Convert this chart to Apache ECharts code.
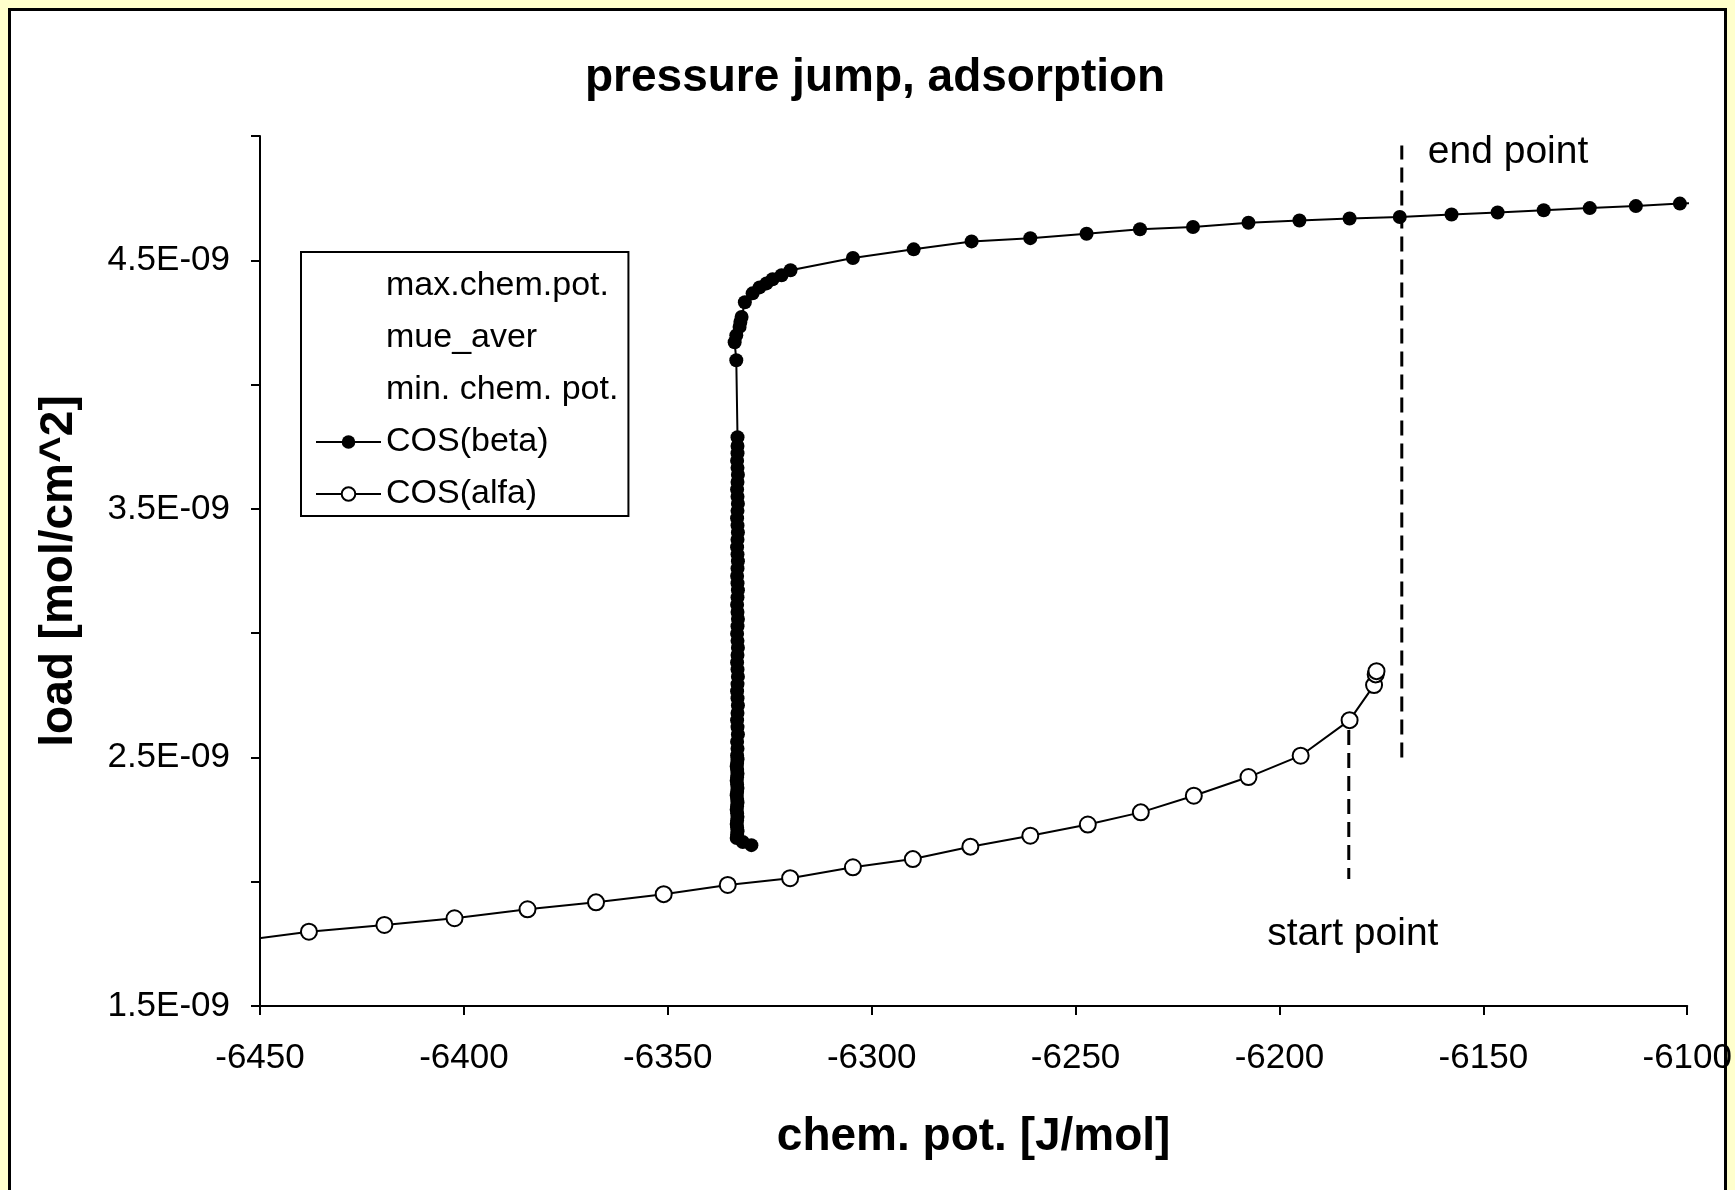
<!DOCTYPE html>
<html>
<head>
<meta charset="utf-8">
<script src="https://cdn.jsdelivr.net/npm/echarts@6/dist/echarts.min.js"></script>
<style>
html,body{margin:0;padding:0;background:#FFFFCC;}
#c{width:1735px;height:1190px;}
</style>
</head>
<body>
<div id="c"></div>
<script>
const FONT = '"Liberation Sans", Arial, Helvetica, sans-serif';

const chartTitle = 'pressure jump, adsorption';
const xAxisTitle = 'chem. pot. [J/mol]';
const yAxisTitle = 'load [mol/cm^2]';
const legendNames = ['max.chem.pot.', 'mue_aver', 'min. chem. pot.', 'COS(beta)', 'COS(alfa)'];

// axes (load in units of 1E-09 mol/cm^2)
const xMin = -6450, xMax = -6100, xStep = 50;
const yMin = 1.5, yMax = 5.0, yStep = 0.5;
const yLabelValues = [1.5, 2.5, 3.5, 4.5];

// COS(beta): jump branch, bottom -> top -> right (last entry: line run-out past the axis end)
const betaX = [
  -6329.5, -6331.6,
  -6333.1, -6333.0, -6332.9, -6333.0, -6333.1, -6333.0, -6332.9, -6333.0, -6333.1, -6333.0,
  -6332.9, -6333.0, -6333.1, -6333.0, -6332.9, -6333.0, -6333.1, -6333.0, -6332.9, -6333.0,
  -6333.1, -6333.0, -6332.9, -6333.0,
  -6332.9, -6333.0, -6332.8, -6332.9, -6333.0, -6332.9, -6332.8, -6332.9, -6333.0, -6332.9,
  -6332.8, -6332.9, -6333.0, -6332.9, -6332.8, -6332.9, -6333.0, -6332.9, -6332.8, -6332.9,
  -6333.0, -6332.9, -6332.8, -6332.9, -6333.0, -6332.9, -6332.8, -6332.9, -6333.0, -6332.9,
  -6332.8, -6332.9, -6333.0, -6332.9, -6332.8, -6332.9, -6333.0, -6332.9, -6332.8, -6332.9,
  -6333.0, -6332.9, -6332.9, -6332.9,
  -6333.2, -6333.6, -6333.2, -6332.4, -6332.2, -6331.9, -6331.1, -6329.2, -6327.5, -6325.8,
  -6324.3, -6322.1, -6319.9,
  -6304.6, -6289.7, -6275.5, -6261.1, -6247.3, -6234.2, -6221.2, -6207.6, -6195.1, -6182.8,
  -6170.5, -6157.8, -6146.5, -6135.2, -6123.9, -6112.6, -6101.8,
  -6097.1
];
const betaY = [
  2.147, 2.160,
  2.176, 2.190, 2.203, 2.218, 2.232, 2.246, 2.261, 2.275, 2.290, 2.304,
  2.319, 2.333, 2.348, 2.362, 2.377, 2.391, 2.406, 2.420, 2.435, 2.449,
  2.464, 2.478, 2.493, 2.508,
  2.535, 2.563, 2.592, 2.622, 2.650, 2.679, 2.709, 2.738, 2.766, 2.795,
  2.825, 2.854, 2.882, 2.912, 2.941, 2.969, 2.998, 3.028, 3.057, 3.085,
  3.114, 3.144, 3.173, 3.201, 3.230, 3.260, 3.289, 3.317, 3.346, 3.376,
  3.405, 3.433, 3.462, 3.492, 3.521, 3.549, 3.578, 3.608, 3.637, 3.665,
  3.694, 3.724, 3.753, 3.788,
  4.098, 4.170, 4.198, 4.232, 4.252, 4.272, 4.331, 4.367, 4.391, 4.407,
  4.424, 4.440, 4.460,
  4.509, 4.544, 4.576, 4.589, 4.607, 4.625, 4.634, 4.651, 4.660, 4.668,
  4.674, 4.684, 4.692, 4.701, 4.710, 4.718, 4.728,
  4.731
];

// COS(alfa): lower branch, left -> right (first entry: line run-in at the axis start)
const alfaX = [
  -6450.6, -6438.0, -6419.5, -6402.3, -6384.4, -6367.6, -6351.0, -6335.3, -6320.0, -6304.6,
  -6289.9, -6275.8, -6261.1, -6247.0, -6234.0, -6221.0, -6207.6, -6194.8, -6182.8, -6176.8,
  -6176.4, -6176.2
];
const alfaY = [
  1.772, 1.799, 1.826, 1.853, 1.889, 1.917, 1.950, 1.987, 2.014, 2.058,
  2.091, 2.141, 2.185, 2.230, 2.279, 2.346, 2.421, 2.507, 2.650, 2.791,
  2.834, 2.847
];

// dashed markers
const startLineX = [-6183, -6183], startLineY = [2.610, 2.011], startText = 'start point';
const endLineX = [-6170, -6170], endLineY = [2.500, 4.962], endText = 'end point';

// build [x, y] pairs; the run-in/run-out point carries no marker
const pairs = (xs, ys, bareIndex) => xs.map((x, i) =>
  i === bareIndex ? {value: [x, ys[i]], symbol: 'none'} : [x, ys[i]]);

const chart = echarts.init(document.getElementById('c'), null, {renderer: 'canvas'});

const emptySeries = name => ({
  name, type: 'line', data: [], symbol: 'none',
  lineStyle: {opacity: 0}, itemStyle: {opacity: 0}
});

const option = {
  backgroundColor: '#FFFFCC',
  animation: false,
  textStyle: {fontFamily: FONT, color: '#000'},
  title: {
    text: chartTitle, left: 580, top: 50,
    textStyle: {fontFamily: FONT, fontSize: 46, fontWeight: 'bold', color: '#000'}
  },
  grid: {left: 260, top: 136, width: 1428, height: 870, containLabel: false},
  legend: {
    data: legendNames,
    orient: 'vertical', left: 301, top: 252,
    itemWidth: 65, itemHeight: 17, itemGap: 18,
    padding: [17, 10, 5, 14],
    borderColor: '#000', borderWidth: 2, backgroundColor: '#fff',
    selectedMode: false,
    textStyle: {fontFamily: FONT, fontSize: 34, color: '#000', lineHeight: 34}
  },
  xAxis: {
    type: 'value', min: xMin, max: xMax, interval: xStep,
    name: xAxisTitle, nameLocation: 'middle', nameGap: 108,
    nameTextStyle: {fontFamily: FONT, fontSize: 46, fontWeight: 'bold', color: '#000'},
    axisLine: {show: true, onZero: false, lineStyle: {color: '#000', width: 2}},
    axisTick: {show: true, inside: false, length: 9, lineStyle: {color: '#000', width: 2}},
    axisLabel: {fontFamily: FONT, fontSize: 35, color: '#000', margin: 35,
      formatter: v => String(Math.round(v))},
    splitLine: {show: false}
  },
  yAxis: {
    type: 'value', min: yMin, max: yMax, interval: yStep,
    name: yAxisTitle, nameLocation: 'middle', nameGap: 178, nameRotate: 90,
    nameTextStyle: {fontFamily: FONT, fontSize: 46, fontWeight: 'bold', color: '#000'},
    axisLine: {show: true, onZero: false, lineStyle: {color: '#000', width: 2}},
    axisTick: {show: true, inside: false, length: 9, lineStyle: {color: '#000', width: 2}},
    axisLabel: {
      fontFamily: FONT, fontSize: 35, color: '#000', margin: 30,
      formatter: v => yLabelValues.includes(+(+v).toFixed(1)) ? (+v).toFixed(1) + 'E-09' : ''
    },
    splitLine: {show: false}
  },
  graphic: [{
    type: 'rect', z: -100, silent: true,
    shape: {x: 9.5, y: 9.5, width: 1716, height: 1220},
    style: {fill: '#fff', stroke: '#000', lineWidth: 3}
  }],
  series: [
    emptySeries(legendNames[0]),
    emptySeries(legendNames[1]),
    emptySeries(legendNames[2]),
    {
      name: legendNames[3], type: 'line', data: pairs(betaX, betaY, betaX.length - 1),
      clip: false, z: 3,
      symbol: 'circle', symbolSize: 14,
      itemStyle: {color: '#000'},
      lineStyle: {color: '#000', width: 2}
    },
    {
      name: legendNames[4], type: 'line', data: pairs(alfaX, alfaY, 0),
      clip: true, z: 3,
      symbol: 'emptyCircle', symbolSize: 16,
      itemStyle: {color: '#000', borderColor: '#000', borderWidth: 2},
      lineStyle: {color: '#000', width: 2}
    },
    {
      name: 'startLine', type: 'line', data: pairs(startLineX, startLineY, -1),
      symbol: 'none', z: 2,
      lineStyle: {color: '#000', width: 3, type: [15, 8]}
    },
    {
      name: 'endLine', type: 'line', data: pairs(endLineX, endLineY, -1),
      symbol: 'none', z: 2,
      lineStyle: {color: '#000', width: 3, type: [15, 8]}
    }
  ]
};

chart.setOption(option);

// annotation texts anchored at the dashed lines' ends through the chart's scales
const pStart = chart.convertToPixel({gridIndex: 0}, [startLineX[1], startLineY[1]]);
const pEnd = chart.convertToPixel({gridIndex: 0}, [endLineX[1], endLineY[1]]);
chart.setOption({
  graphic: [
    option.graphic[0],
    {
      type: 'text', z: 10, silent: true,
      x: pStart[0] + 4, y: pStart[1] + 55,
      style: {text: startText, fontFamily: FONT, fontSize: 39, fill: '#000', align: 'center', verticalAlign: 'middle'}
    },
    {
      type: 'text', z: 10, silent: true,
      x: pEnd[0] + 26, y: pEnd[1] + 7,
      style: {text: endText, fontFamily: FONT, fontSize: 39, fill: '#000', align: 'left', verticalAlign: 'middle'}
    }
  ]
});
</script>
</body>
</html>
